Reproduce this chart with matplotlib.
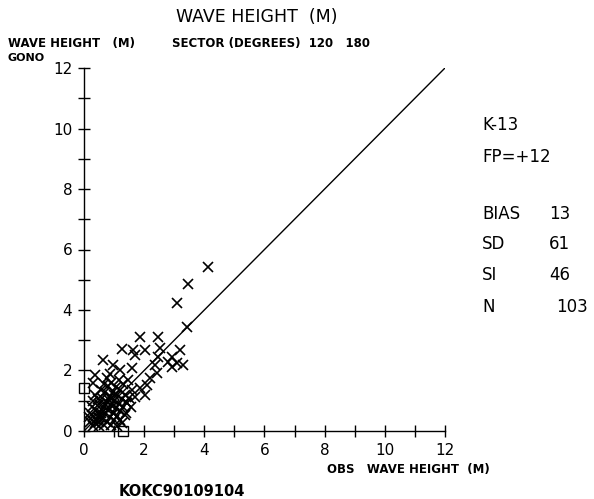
import matplotlib
matplotlib.use("Agg")
import matplotlib.pyplot as plt
from matplotlib.ticker import MultipleLocator

# observed vs model wave height (m)
obs = [4.13, 3.47, 3.1, 3.43, 1.87, 2.47, 1.27, 1.63, 2.03, 2.53, 1.7, 2.47, 2.93, 3.2,
       3.1, 3.3, 2.93, 2.8, 0.63, 0.97, 1.2, 1.6, 2.37, 2.43, 2.2, 2.1, 2.03, 1.87, 1.47,
       0.37, 0.3, 1.7, 1.43, 1.37, 1.2,
       0.2, 0.3, 0.35, 0.4, 0.45, 0.5, 0.5, 0.55, 0.6, 0.6, 0.65, 0.7, 0.7, 0.75, 0.75,
       0.8, 0.8, 0.85, 0.85, 0.9, 0.9, 0.95, 0.95, 1.0, 1.0, 1.05, 1.05, 1.1, 1.1, 1.15,
       1.15, 1.2, 1.2, 1.25, 1.25, 1.3, 1.3, 1.35, 1.4, 1.4, 0.25, 0.3, 0.35, 0.45, 0.55,
       0.65, 0.75, 0.85, 0.5, 0.65, 0.9, 1.1, 0.4, 0.6, 0.7, 0.8, 0.9, 1.0, 1.0, 0.55,
       0.45, 0.3, 0.15, 0.2, 1.5, 1.55, 1.6, 1.0]
model = [5.42, 4.86, 4.23, 3.44, 3.1, 3.1, 2.7, 2.68, 2.68, 2.74, 2.5, 2.45, 2.45, 2.68,
         2.25, 2.18, 2.12, 2.28, 2.35, 2.18, 2.02, 2.08, 2.18, 1.92, 1.75, 1.52, 1.19, 1.42, 1.69,
         1.85, 1.58, 1.12, 0.93, 0.53, 0.36,
         0.3, 0.5, 0.25, 0.7, 0.45, 0.9, 0.3, 0.6, 1.1, 0.4, 0.8, 1.3, 0.55, 0.95, 0.3,
         1.5, 0.7, 1.15, 0.45, 0.85, 1.6, 0.6, 1.3, 1.0, 0.35, 0.75, 1.45, 1.2, 0.5, 0.9,
         1.7, 0.65, 1.35, 1.05, 0.25, 0.8, 1.55, 1.2, 0.95, 0.6, 0.8, 1.0, 1.2, 1.05, 1.35,
         1.55, 1.75, 1.9, 0.15, 0.2, 0.2, 0.15, 0.35, 0.7, 0.9, 1.05, 1.05, 1.2, 0.6, 0.5,
         0.6, 0.15, 0.45, 0.6, 1.1, 0.8, 1.35, 0.85]
# off-scale markers on the axes
sq_x = [0.0, 1.3]
sq_y = [1.42, 0.0]

stats = [("BIAS", "13"), ("SD", "61"), ("SI", "46"), ("N", "103")]

fig = plt.figure(figsize=(5.94, 4.99), dpi=100)
ax = fig.add_axes([0.1414, 0.1363, 0.6077, 0.7274])

ax.plot([0, 12], [0, 12], color="black", lw=1)
ax.plot(obs, model, "x", color="black", ms=7, mew=1.2, clip_on=False)
ax.plot(sq_x, sq_y, "s", mfc="none", mec="black", ms=7, mew=1, clip_on=False)

ax.set_xlim(0, 12)
ax.set_ylim(0, 12)
for s in ["top", "right"]:
    ax.spines[s].set_visible(False)
for s in ["left", "bottom"]:
    ax.spines[s].set_linewidth(1)
ax.xaxis.set_major_locator(MultipleLocator(2))
ax.xaxis.set_minor_locator(MultipleLocator(1))
ax.yaxis.set_major_locator(MultipleLocator(2))
ax.yaxis.set_minor_locator(MultipleLocator(1))
ax.tick_params(which="both", direction="inout", length=9, width=1, labelsize=11, pad=4)

fig.text(0.432, 0.955, "WAVE HEIGHT  (M)", fontsize=12.5, ha="center")
fig.text(0.013, 0.905, "WAVE HEIGHT   (M)", fontsize=8.5, weight="bold")
fig.text(0.29, 0.905, "SECTOR (DEGREES)  120   180", fontsize=8.5, weight="bold")
fig.text(0.013, 0.877, "GONO", fontsize=8, weight="bold")
fig.text(0.55, 0.052, "OBS   WAVE HEIGHT  (M)", fontsize=8.5, weight="bold")
fig.text(0.2, 0.006, "KOKC90109104", fontsize=10.5, weight="bold")

fig.text(0.812, 0.74, "K-13", fontsize=12)
fig.text(0.812, 0.676, "FP=+12", fontsize=12)
ys = [0.561, 0.501, 0.439, 0.375]
for (k, v), y in zip(stats, ys):
    fig.text(0.812, y, k, fontsize=12)
    fig.text(0.96 if k != "N" else 0.99, y, v, fontsize=12, ha="right")

fig.savefig("out.png", dpi=100)
